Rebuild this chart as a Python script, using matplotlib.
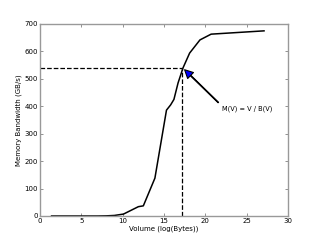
import numpy as np
import matplotlib
matplotlib.use('Agg')
import matplotlib.pyplot as plt

volume = [1.4, 3, 5, 7, 8, 9, 10.1, 11.1, 11.9, 12.5, 13.9, 15.3, 15.8, 16.2, 16.7, 17.3, 18.1, 19.35, 20.7, 27.1]
bandwidth = [0, 0, 0, 0, 0.5, 2, 7, 22, 34, 37, 138, 386, 405, 425, 485, 540, 594, 642, 663, 675]

v_mark = 17.2
b_mark = 540
label = 'M(V) = V / B(V)'

fig = plt.figure(figsize=(3.2, 2.4), dpi=100)
ax = fig.add_axes([0.125, 0.1, 0.775, 0.8])

ax.plot(volume, bandwidth, color='black', lw=1.1)
ax.plot([0, v_mark], [b_mark, b_mark], 'k--', lw=0.9)
ax.plot([v_mark, v_mark], [0, b_mark], 'k--', lw=0.9)

ax.annotate(label, xy=(17.4, 536), xytext=(22, 383),
            fontsize=4.8,
            arrowprops=dict(facecolor='blue', edgecolor='black', width=0.5,
                            headwidth=6, headlength=6, shrink=0.02, lw=0.8))

ax.set_xlim(0, 30)
ax.set_ylim(0, 700)
ax.set_xticks(range(0, 31, 5))
ax.set_yticks(range(0, 701, 100))
ax.tick_params(direction='in', top=True, right=True, labelsize=5, length=2.5,
               width=0.5, color='0.4', pad=1.5)
for s in ax.spines.values():
    s.set_color('0.6')
    s.set_linewidth(1.0)
ax.set_xlabel('Volume (log(Bytes))', fontsize=5, labelpad=1)
ax.set_ylabel('Memory Bandwidth (GB/s)', fontsize=5, labelpad=2)

fig.savefig('out.png', dpi=100)
